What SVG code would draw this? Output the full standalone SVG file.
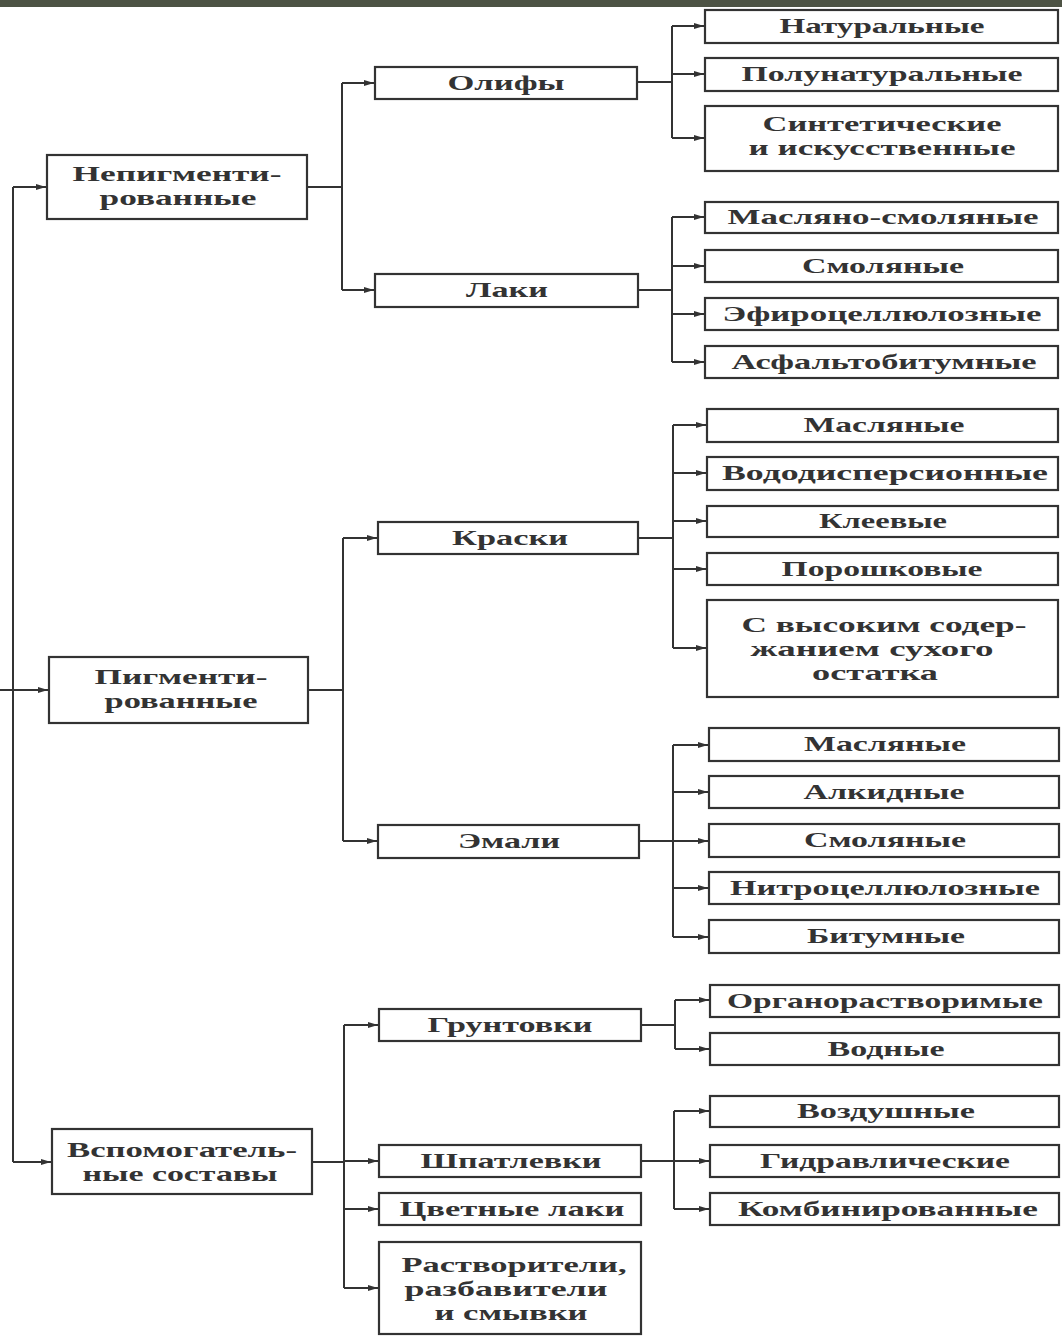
<svg xmlns="http://www.w3.org/2000/svg" width="1062" height="1337" viewBox="0 0 1062 1337">
<defs>
<style>
.box{fill:#fff;stroke:#333;stroke-width:2.2}
.t{font-family:"Liberation Serif","DejaVu Serif",serif;font-size:21.5px;font-weight:bold;fill:#333;text-anchor:middle}
.c{stroke:#333;stroke-width:2;fill:none}
.a{stroke:#333;stroke-width:2;fill:none;marker-end:url(#ah)}
</style>
<marker id="ah" markerWidth="10" markerHeight="6" refX="10" refY="3" orient="auto" markerUnits="userSpaceOnUse">
<path d="M0,0 L10,3 L0,6 z" fill="#333"/>
</marker>
</defs>
<rect x="0" y="0" width="1062" height="1337" fill="#fff"/>
<rect x="0" y="0" width="1062" height="7" fill="#4d5344"/>

<g id="connectors">
<path class="c" d="M13,187 V1162"/>
<path class="a" d="M13,187 H46"/>
<path class="a" d="M0,690 H48"/>
<path class="a" d="M13,1162 H51"/>

<path class="c" d="M307,187 H342 M342,83 V290"/>
<path class="a" d="M342,83 H374"/>
<path class="a" d="M342,290 H374"/>

<path class="c" d="M637,82 H672 M672,26 V138"/>
<path class="a" d="M672,26 H704"/>
<path class="a" d="M672,74 H704"/>
<path class="a" d="M672,138 H704"/>

<path class="c" d="M638,290 H672 M672,217 V362"/>
<path class="a" d="M672,217 H704"/>
<path class="a" d="M672,266 H704"/>
<path class="a" d="M672,314 H704"/>
<path class="a" d="M672,362 H704"/>

<path class="c" d="M308,690 H343 M343,538 V841"/>
<path class="a" d="M343,538 H377"/>
<path class="a" d="M343,841 H377"/>

<path class="c" d="M638,538 H673 M673,425 V648"/>
<path class="a" d="M673,425 H706"/>
<path class="a" d="M673,473 H706"/>
<path class="a" d="M673,521 H706"/>
<path class="a" d="M673,569 H706"/>
<path class="a" d="M673,648 H706"/>

<path class="c" d="M639,841 H673 M673,745 V937"/>
<path class="a" d="M673,745 H708"/>
<path class="a" d="M673,792 H708"/>
<path class="a" d="M673,841 H708"/>
<path class="a" d="M673,888 H708"/>
<path class="a" d="M673,937 H708"/>

<path class="c" d="M312,1162 H344 M344,1025 V1288"/>
<path class="a" d="M344,1025 H378"/>
<path class="a" d="M344,1161 H378"/>
<path class="a" d="M344,1209 H378"/>
<path class="a" d="M344,1288 H378"/>

<path class="c" d="M641,1025 H675 M675,1000 V1049"/>
<path class="a" d="M675,1000 H709"/>
<path class="a" d="M675,1049 H709"/>

<path class="c" d="M641,1161 H674 M674,1111 V1209"/>
<path class="a" d="M674,1111 H709"/>
<path class="a" d="M674,1161 H709"/>
<path class="a" d="M674,1209 H709"/>
</g>

<g id="n-nepigm"><rect class="box" x="47" y="155" width="260" height="64"/>
<text class="t" x="177" y="181" textLength="209" lengthAdjust="spacingAndGlyphs">Непигменти-</text>
<text class="t" x="178" y="205" textLength="157" lengthAdjust="spacingAndGlyphs">рованные</text></g>
<g id="n-pigm"><rect class="box" x="49" y="657" width="259" height="66"/>
<text class="t" x="181" y="684" textLength="173" lengthAdjust="spacingAndGlyphs">Пигменти-</text>
<text class="t" x="181" y="708" textLength="153" lengthAdjust="spacingAndGlyphs">рованные</text></g>
<g id="n-vspom"><rect class="box" x="52" y="1129" width="260" height="65"/>
<text class="t" x="182" y="1157" textLength="230" lengthAdjust="spacingAndGlyphs">Вспомогатель-</text>
<text class="t" x="180" y="1181" textLength="195" lengthAdjust="spacingAndGlyphs">ные составы</text></g>

<g id="n-olify"><rect class="box" x="375" y="67" width="262" height="32"/>
<text class="t" x="506" y="90" textLength="117" lengthAdjust="spacingAndGlyphs">Олифы</text></g>
<g id="n-laki"><rect class="box" x="375" y="274" width="263" height="33"/>
<text class="t" x="507" y="297" textLength="82" lengthAdjust="spacingAndGlyphs">Лаки</text></g>
<g id="n-kraski"><rect class="box" x="378" y="522" width="260" height="32"/>
<text class="t" x="510" y="545" textLength="116" lengthAdjust="spacingAndGlyphs">Краски</text></g>
<g id="n-emali"><rect class="box" x="378" y="825" width="261" height="33"/>
<text class="t" x="509" y="848" textLength="102" lengthAdjust="spacingAndGlyphs">Эмали</text></g>
<g id="n-grunt"><rect class="box" x="379" y="1009" width="262" height="32"/>
<text class="t" x="510" y="1032" textLength="165" lengthAdjust="spacingAndGlyphs">Грунтовки</text></g>
<g id="n-shpat"><rect class="box" x="379" y="1145" width="262" height="32"/>
<text class="t" x="511" y="1168" textLength="181" lengthAdjust="spacingAndGlyphs">Шпатлевки</text></g>
<g id="n-cvet"><rect class="box" x="379" y="1193" width="262" height="32"/>
<text class="t" x="512" y="1216" textLength="225" lengthAdjust="spacingAndGlyphs">Цветные лаки</text></g>
<g id="n-rastv"><rect class="box" x="379" y="1242" width="262" height="92"/>
<text class="t" x="514" y="1272" textLength="225" lengthAdjust="spacingAndGlyphs">Растворители,</text>
<text class="t" x="506" y="1296" textLength="203" lengthAdjust="spacingAndGlyphs">разбавители</text>
<text class="t" x="511" y="1320" textLength="153" lengthAdjust="spacingAndGlyphs">и смывки</text></g>

<g id="n-natur"><rect class="box" x="705" y="10" width="353" height="33"/>
<text class="t" x="882" y="33" textLength="205" lengthAdjust="spacingAndGlyphs">Натуральные</text></g>
<g id="n-polunatur"><rect class="box" x="705" y="58" width="353" height="33"/>
<text class="t" x="882" y="81" textLength="281" lengthAdjust="spacingAndGlyphs">Полунатуральные</text></g>
<g id="n-sintet"><rect class="box" x="705" y="106" width="353" height="65"/>
<text class="t" x="882" y="131" textLength="239" lengthAdjust="spacingAndGlyphs">Синтетические</text>
<text class="t" x="882" y="155" textLength="267" lengthAdjust="spacingAndGlyphs">и искусственные</text></g>

<g id="n-maslsmol"><rect class="box" x="705" y="202" width="353" height="31"/>
<text class="t" x="883" y="224" textLength="311" lengthAdjust="spacingAndGlyphs">Масляно-смоляные</text></g>
<g id="n-smol1"><rect class="box" x="705" y="250" width="353" height="32"/>
<text class="t" x="883" y="273" textLength="162" lengthAdjust="spacingAndGlyphs">Смоляные</text></g>
<g id="n-efir"><rect class="box" x="705" y="298" width="353" height="32"/>
<text class="t" x="882" y="321" textLength="319" lengthAdjust="spacingAndGlyphs">Эфироцеллюлозные</text></g>
<g id="n-asfalt"><rect class="box" x="705" y="346" width="353" height="32"/>
<text class="t" x="884" y="369" textLength="305" lengthAdjust="spacingAndGlyphs">Асфальтобитумные</text></g>

<g id="n-masl1"><rect class="box" x="707" y="409" width="351" height="33"/>
<text class="t" x="884" y="432" textLength="161" lengthAdjust="spacingAndGlyphs">Масляные</text></g>
<g id="n-vodod"><rect class="box" x="707" y="457" width="351" height="33"/>
<text class="t" x="885" y="480" textLength="326" lengthAdjust="spacingAndGlyphs">Вододисперсионные</text></g>
<g id="n-kleev"><rect class="box" x="707" y="506" width="351" height="31"/>
<text class="t" x="883" y="528" textLength="128" lengthAdjust="spacingAndGlyphs">Клеевые</text></g>
<g id="n-porosh"><rect class="box" x="707" y="553" width="351" height="32"/>
<text class="t" x="882" y="576" textLength="201" lengthAdjust="spacingAndGlyphs">Порошковые</text></g>
<g id="n-vysok"><rect class="box" x="707" y="600" width="351" height="97"/>
<text class="t" x="884" y="632" textLength="285" lengthAdjust="spacingAndGlyphs">С высоким содер-</text>
<text class="t" x="872" y="656" textLength="243" lengthAdjust="spacingAndGlyphs">жанием сухого</text>
<text class="t" x="875" y="680" textLength="126" lengthAdjust="spacingAndGlyphs">остатка</text></g>

<g id="n-masl2"><rect class="box" x="709" y="728" width="350" height="33"/>
<text class="t" x="885" y="751" textLength="162" lengthAdjust="spacingAndGlyphs">Масляные</text></g>
<g id="n-alkid"><rect class="box" x="709" y="776" width="350" height="32"/>
<text class="t" x="884" y="799" textLength="161" lengthAdjust="spacingAndGlyphs">Алкидные</text></g>
<g id="n-smol2"><rect class="box" x="709" y="824" width="350" height="33"/>
<text class="t" x="885" y="847" textLength="162" lengthAdjust="spacingAndGlyphs">Смоляные</text></g>
<g id="n-nitro"><rect class="box" x="709" y="872" width="350" height="32"/>
<text class="t" x="885" y="895" textLength="310" lengthAdjust="spacingAndGlyphs">Нитроцеллюлозные</text></g>
<g id="n-bitum"><rect class="box" x="709" y="920" width="350" height="33"/>
<text class="t" x="886" y="943" textLength="158" lengthAdjust="spacingAndGlyphs">Битумные</text></g>

<g id="n-organo"><rect class="box" x="710" y="985" width="349" height="32"/>
<text class="t" x="885" y="1008" textLength="316" lengthAdjust="spacingAndGlyphs">Органорастворимые</text></g>
<g id="n-vodn"><rect class="box" x="710" y="1033" width="349" height="32"/>
<text class="t" x="886" y="1056" textLength="117" lengthAdjust="spacingAndGlyphs">Водные</text></g>
<g id="n-vozd"><rect class="box" x="710" y="1096" width="349" height="31"/>
<text class="t" x="886" y="1118" textLength="178" lengthAdjust="spacingAndGlyphs">Воздушные</text></g>
<g id="n-gidr"><rect class="box" x="710" y="1145" width="349" height="32"/>
<text class="t" x="885" y="1168" textLength="250" lengthAdjust="spacingAndGlyphs">Гидравлические</text></g>
<g id="n-komb"><rect class="box" x="710" y="1193" width="349" height="32"/>
<text class="t" x="888" y="1216" textLength="300" lengthAdjust="spacingAndGlyphs">Комбинированные</text></g>
</svg>
